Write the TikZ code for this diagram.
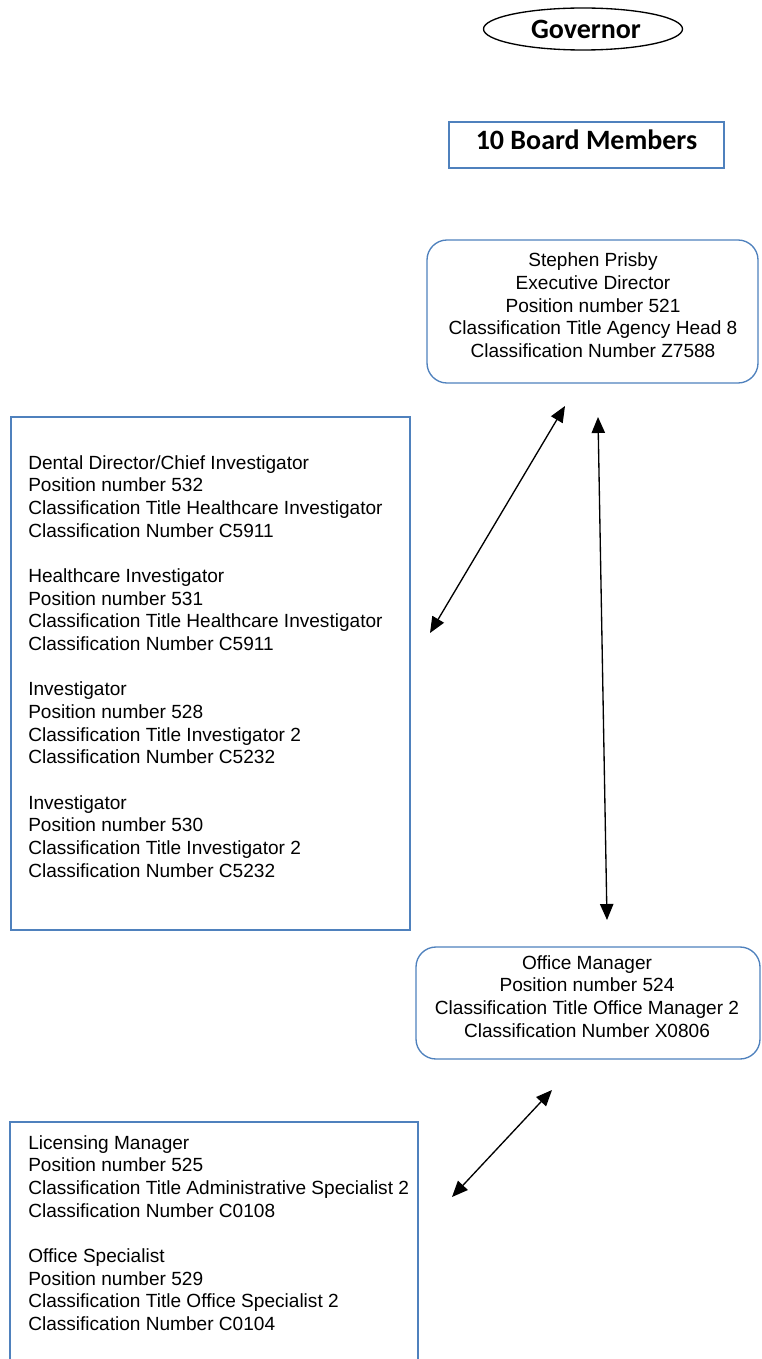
\documentclass[tikz,border=0pt]{standalone}
\usepackage{fontspec}
\setmainfont{Liberation Sans}
\newfontfamily\calb{Carlito}
\usetikzlibrary{arrows.meta,shapes.geometric}
\definecolor{boxblue}{RGB}{79,129,189}
\tikzset{
  bluebox/.style={draw=boxblue,line width=1pt,inner sep=0pt},
  roundbox/.style={bluebox,rounded corners=15pt},
  bodytext/.style={font=\fontsize{14.3}{17}\selectfont,inner sep=0pt},
  headtext/.style={font=\calb\bfseries\fontsize{21}{24}\selectfont},
  link/.style={line width=1pt,{Triangle[length=12pt,width=10pt]}-{Triangle[length=12pt,width=10pt]}}
}
\begin{document}
\begin{tikzpicture}[x=0.75pt,y=-0.75pt]
\useasboundingbox (0,0) rectangle (761,1359);
% Governor
\node[ellipse,draw=black,line width=1pt,minimum width=149.25pt,minimum height=31.5pt,inner sep=0pt] (gov) at (583,29) {};
\node[headtext,anchor=center] (govt) at (586,29) {Governor};
% Board
\node[bluebox,minimum width=206.25pt,minimum height=34.5pt] (board) at (586.5,145) {};
\node[headtext] (boardt) at (586.5,140) {10 Board Members};
% Executive
\node[roundbox,minimum width=248.25pt,minimum height=107.25pt] (exec) at (592.5,311.5) {};
\node[bodytext,align=center] (exect) at (593,305.5) {Stephen Prisby\\Executive Director\\Position number 521\\Classification Title Agency Head 8\\Classification Number Z7588};
% Left box 1
\node[bluebox,minimum width=299.25pt,minimum height=384.75pt] (inv) at (210.5,673.5) {};
\node[bodytext,align=left,anchor=north west] (invt) at (28,455) {Dental Director/Chief Investigator\\Position number 532\\Classification Title Healthcare Investigator\\Classification Number C5911\\[17pt]Healthcare Investigator\\Position number 531\\Classification Title Healthcare Investigator\\Classification Number C5911\\[17pt]Investigator\\Position number 528\\Classification Title Investigator 2\\Classification Number C5232\\[17pt]Investigator\\Position number 530\\Classification Title Investigator 2\\Classification Number C5232};
% Office manager
\node[roundbox,minimum width=258pt,minimum height=84pt] (om) at (588,1003) {};
\node[bodytext,align=center] (omt) at (587,996.5) {Office Manager\\Position number 524\\Classification Title Office Manager 2\\Classification Number X0806};
% Left box 2
\draw[boxblue,line width=1pt] (10,1400) -- (10,1122) -- (418,1122) -- (418,1400);
\node[bodytext,align=left,anchor=north west] (lict) at (28,1135) {Licensing Manager\\Position number 525\\Classification Title Administrative Specialist 2\\Classification Number C0108\\[17pt]Office Specialist\\Position number 529\\Classification Title Office Specialist 2\\Classification Number C0104};
% arrows
\coordinate (a1s) at (565,406);
\coordinate (a1e) at (430,633);
\coordinate (a2s) at (598,417);
\coordinate (a2e) at (607,920);
\coordinate (a3s) at (552,1090);
\coordinate (a3e) at (452,1197);
\draw[link] (a1s) -- (a1e);
\draw[link] (a2s) -- (a2e);
\draw[link] (a3s) -- (a3e);
\end{tikzpicture}
\end{document}
